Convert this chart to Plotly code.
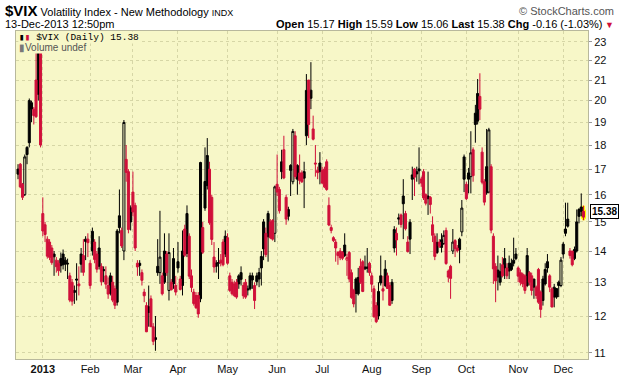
import numpy as np
import pandas as pd
import plotly.graph_objects as go

# ---------------- data ----------------
holidays = ["2012-12-25", "2013-01-01", "2013-01-21", "2013-02-18", "2013-03-29",
            "2013-05-27", "2013-07-04", "2013-09-02", "2013-11-28"]
bdays = pd.bdate_range("2012-12-14", "2013-12-13")
dates = [d for d in bdays if d.strftime("%Y-%m-%d") not in holidays]

open_ = [16.8, 17.2, 16.4, 16.0, 17.9, 20.0, 19.9, 19.6, 21.0, 20.3, 22.4,
         15.3, 14.9, 14.4, 14.3, 14.1, 13.9, 13.7, 13.6, 13.75, 13.9, 13.7, 13.6, 13.2, 13.0, 12.75, 13.1, 12.95, 13.9, 13.85, 14.4, 14.4,
         13.6, 14.0, 14.3, 13.9, 14.1, 13.5, 13.4, 13.2, 12.9, 13.2, 13.0, 12.8, 12.4, 14.8, 14.7, 14.0, 17.4, 16.9, 15.0,
         16.1, 15.6, 13.6, 13.6, 13.3, 12.7, 12.3, 12.1, 12.5, 11.7, 11.4, 13.5, 13.3, 13.2, 13.0, 13.9, 12.75, 13.0, 13.75, 12.9,
         13.65, 13.1, 12.9, 14.75, 15.3, 14.5, 13.2, 12.7, 12.6, 12.6, 12.5, 14.8, 15.5, 16.35, 17.0, 15.9, 13.8, 13.5, 13.6, 13.7, 14.3, 14.5,
         14.45, 13.2, 13.0, 12.95, 13.0, 13.2, 13.3, 12.9, 13.0, 12.8, 13.2, 13.2, 12.9, 13.2, 13.3, 13.45, 15.0, 14.6, 15.3, 15.0, 15.05, 14.6,
         16.4, 16.2, 17.3, 17.8, 15.9, 15.2, 17.15, 16.5, 18.4, 16.6, 16.85, 16.85, 16.9, 18.4, 21.0, 20.5, 18.7, 17.25, 16.95, 17.25,
         16.95, 17.0, 17.3, 15.6, 14.7, 14.45, 14.3, 13.95, 14.0, 13.95, 14.2, 13.7, 13.95, 13.3, 12.75, 13.1, 12.65, 13.5, 13.65, 13.48, 13.48, 13.6,
         13.2, 12.8, 12.3, 12.0, 13.2, 12.8, 12.9, 13.2, 12.9, 13.0, 14.1, 14.6, 15.15, 15.25, 15.95, 15.3, 14.3, 14.4, 16.6, 17.0, 16.9, 16.93,
         16.45, 16.9, 16.0, 15.95, 15.9, 14.9, 14.5, 13.95, 14.3, 14.12, 14.25, 14.7, 13.35, 13.5, 14.0, 14.35, 14.1, 14.4, 14.65, 17.5,
         16.4, 16.85, 16.7, 17.8, 18.9, 19.05, 20.2, 17.7, 16.5, 17.1, 16.1, 17.1, 14.5, 13.5, 13.38, 13.0, 13.55, 13.75, 13.45, 13.6, 13.6, 13.7, 13.9,
         13.45, 13.3, 13.25, 13.2, 12.9, 13.3, 13.2, 13.1, 12.85, 13.4, 12.7, 13.1, 12.95, 13.65, 13.2, 12.8, 12.85, 12.55, 13.0, 12.9,
         13.9, 14.75, 15.1, 14.0, 14.0, 14.05, 14.0, 15.45, 15.38, 15.17]
high = [17.2, 17.25, 16.45, 17.6, 17.95, 20.1, 20.0, 19.7, 22.5, 23.3, 22.9,
        15.9, 15.0, 14.5, 14.4, 14.2, 14.0, 13.8, 13.7, 13.95, 14.05, 13.8, 13.75, 13.3, 13.1, 12.9, 13.6, 13.5, 14.1, 14.4, 14.5, 14.6,
        13.7, 14.8, 14.4, 14.0, 14.5, 13.6, 13.5, 13.5, 13.15, 13.3, 13.2, 12.9, 14.75, 16.2, 14.8, 19.1, 18.0, 17.0, 15.6,
        16.9, 15.7, 13.7, 13.7, 13.4, 12.8, 12.4, 12.9, 12.6, 11.8, 12.0, 14.4, 15.4, 13.3, 14.6, 14.0, 14.6, 13.1, 14.1, 13.2,
        14.3, 13.2, 14.7, 14.9, 15.6, 14.6, 13.4, 12.8, 12.7, 12.7, 17.3, 15.0, 17.9, 18.3, 17.3, 16.0, 14.3, 13.7, 14.1, 13.9, 14.4, 14.7,
        14.6, 13.3, 13.1, 13.05, 13.1, 13.25, 13.5, 13.0, 13.1, 12.9, 13.3, 13.3, 13.0, 13.3, 13.45, 14.0, 15.1, 14.8, 15.4, 15.1, 15.1, 16.35,
        17.6, 16.3, 17.8, 18.4, 16.0, 15.55, 17.2, 18.7, 18.6, 17.2, 17.6, 16.95, 17.3, 21.3, 21.0, 21.91, 19.3, 18.0, 17.1, 17.7,
        17.1, 17.1, 17.4, 15.9, 14.9, 14.5, 14.4, 14.0, 14.1, 14.0, 14.6, 13.9, 14.0, 13.4, 12.8, 13.15, 13.45, 13.75, 13.7, 13.85, 14.1, 13.65,
        13.3, 12.9, 12.4, 13.0, 13.85, 13.2, 13.7, 13.3, 13.0, 13.1, 14.85, 14.8, 15.3, 15.3, 16.6, 15.4, 14.5, 15.1, 17.1, 17.05, 17.1, 17.9,
        16.7, 17.0, 16.05, 16.9, 15.95, 15.2, 14.6, 14.6, 14.4, 14.6, 14.7, 14.8, 13.4, 13.55, 14.75, 14.4, 14.2, 14.45, 15.8, 17.6,
        16.5, 17.05, 18.6, 17.9, 19.8, 21.05, 21.34, 17.9, 16.6, 18.7, 18.75, 17.2, 14.6, 13.6, 13.85, 13.6, 13.8, 14.1, 13.6, 13.85, 13.75, 14.45, 14.1,
        13.5, 13.4, 13.3, 13.25, 14.1, 13.35, 13.3, 13.1, 12.9, 13.45, 12.75, 13.2, 13.6, 13.9, 13.25, 12.85, 12.95, 12.8, 13.05, 13.8,
        14.3, 15.7, 15.7, 14.1, 14.0, 14.15, 15.45, 15.5, 16.05, 15.59]
low = [16.6, 16.25, 15.8, 15.95, 17.2, 17.9, 19.0, 18.9, 19.2, 20.0, 17.9,
       14.5, 14.3, 13.75, 13.7, 13.55, 13.2, 13.3, 13.2, 13.3, 13.4, 13.35, 13.1, 12.4, 12.3, 12.35, 12.45, 12.6, 13.3, 13.2, 13.7, 13.8,
       12.8, 13.85, 13.6, 13.3, 13.4, 12.9, 13.0, 12.8, 12.5, 12.6, 12.4, 12.2, 12.3, 14.6, 14.1, 13.7, 16.5, 14.6, 14.7,
       15.2, 14.0, 13.2, 13.2, 12.9, 12.4, 11.55, 11.7, 11.7, 11.2, 11.05, 13.2, 12.95, 12.6, 12.95, 13.2, 12.45, 12.75, 12.8, 12.6,
       13.3, 12.75, 12.6, 13.8, 13.8, 13.1, 12.7, 12.3, 12.2, 11.95, 12.4, 13.9, 15.4, 16.2, 14.9, 14.2, 13.3, 13.3, 13.1, 13.5, 13.5, 13.8,
       13.55, 12.7, 12.6, 12.55, 12.5, 12.8, 12.9, 12.5, 12.5, 12.6, 12.75, 12.8, 12.2, 12.9, 12.85, 12.9, 13.7, 13.8, 13.65, 14.4, 14.35, 14.3,
       15.95, 15.3, 16.6, 16.6, 14.9, 15.05, 15.95, 16.4, 16.6, 16.0, 16.4, 16.45, 15.5, 18.0, 18.3, 19.6, 18.2, 16.7, 16.6, 16.4,
       16.4, 16.25, 16.15, 14.85, 14.6, 14.3, 13.65, 13.55, 13.7, 13.7, 13.8, 13.2, 13.0, 12.5, 12.25, 12.1, 12.6, 12.95, 12.7, 13.38, 13.3, 13.2,
       12.7, 11.95, 11.8, 11.9, 12.9, 12.45, 12.85, 12.8, 12.3, 12.35, 13.95, 13.85, 14.9, 14.8, 14.4, 14.7, 13.95, 13.9, 15.8, 15.95, 16.5, 16.4,
       16.3, 15.8, 15.6, 15.25, 15.3, 14.3, 13.7, 13.9, 14.1, 13.95, 14.2, 13.55, 13.0, 12.5, 13.9, 13.8, 13.95, 13.6, 14.5, 16.1,
       15.8, 16.05, 16.05, 16.5, 18.1, 18.9, 19.1, 16.4, 15.6, 16.0, 16.05, 14.6, 12.95, 12.4, 12.75, 12.9, 13.15, 13.1, 13.1, 13.1, 13.35, 13.5, 13.7,
       13.0, 12.9, 12.85, 12.65, 12.85, 12.9, 12.6, 12.5, 12.5, 12.35, 11.95, 12.3, 12.9, 13.3, 12.7, 12.25, 12.25, 12.5, 12.55, 12.85,
       13.75, 14.5, 14.8, 13.75, 13.5, 13.7, 13.95, 14.95, 15.2, 15.06]
close = [17.0, 16.3, 15.9, 17.5, 17.6, 18.1, 19.6, 19.3, 19.25, 22.5, 18.0,
         14.68, 14.56, 13.83, 13.79, 13.62, 13.81, 13.49, 13.36, 13.52, 13.55, 13.57, 13.58, 12.46, 12.43, 12.69, 13.07, 12.89, 13.57, 13.31, 14.32, 14.28,
         12.90, 14.67, 13.72, 13.41, 13.50, 13.02, 13.36, 12.94, 12.64, 12.66, 12.46, 12.31, 14.68, 15.22, 14.17, 18.99, 16.87, 14.73, 15.51,
         15.36, 14.1, 13.48, 13.53, 13.06, 12.59, 11.56, 12.27, 11.7, 11.3, 11.35, 13.3, 13.8, 12.65, 14.0, 13.3, 13.95, 12.77, 12.95, 12.70,
         13.45, 12.78, 14.0, 13.86, 13.92, 13.19, 12.84, 12.36, 12.24, 12.06, 17.27, 13.96, 16.51, 17.56, 14.97, 14.39, 13.48, 13.61, 13.62, 13.61, 13.55, 13.9,
         13.6, 12.75, 12.65, 12.6, 12.55, 12.95, 13.09, 12.59, 12.55, 12.77, 12.8, 13.07, 12.45, 13.02, 13.1, 13.82, 14.07, 13.88, 14.48, 14.45, 14.4, 16.3,
         16.1, 15.4, 16.9, 16.65, 15.1, 15.45, 16.95, 18.59, 16.7, 17.15, 16.55, 16.5, 16.64, 20.49, 18.9, 20.11, 18.25, 17.21, 16.86, 16.9,
         16.45, 16.3, 16.2, 14.89, 14.8, 14.35, 14.1, 13.85, 13.78, 13.76, 13.85, 13.78, 13.1, 12.54, 12.35, 12.66, 13.15, 13.0, 12.72, 13.42, 13.44, 13.3,
         12.94, 11.98, 11.84, 12.72, 12.98, 12.73, 13.41, 12.81, 12.31, 12.45, 14.73, 14.37, 15.10, 14.91, 15.66, 14.76, 13.98, 14.99, 16.77, 16.68, 16.81, 17.01,
         16.61, 15.88, 15.68, 15.85, 15.63, 14.53, 13.82, 14.29, 14.16, 14.38, 14.53, 13.59, 13.16, 13.12, 14.30, 14.08, 14.01, 14.05, 15.5, 16.6,
         15.85, 16.6, 17.67, 16.74, 19.41, 20.34, 19.6, 16.48, 15.72, 16.07, 18.66, 14.71, 13.42, 13.04, 13.16, 13.33, 13.2, 13.45, 13.2, 13.35, 13.4, 13.6, 13.75,
         13.19, 13.0, 12.95, 12.75, 13.85, 13.0, 12.75, 12.85, 12.6, 12.4, 12.19, 12.45, 13.4, 13.45, 12.85, 12.26, 12.55, 12.81, 12.9, 13.7,
         14.23, 14.6, 14.85, 13.85, 13.55, 13.75, 15.0, 15.2, 15.54, 15.38]

y_ticks = list(range(11, 24))

# ---------------- figure ----------------
n = len(close)
idx = np.arange(n)
o, h, l, c = map(np.array, (open_, high, low, close))
prev = np.r_[c[0], c[:-1]]
up = c >= prev

BLACK = "#000000"
RED = "#D0103A"
BG = "#F7F7C8"
GRID = "#D6D6A6"

L, R, T, B = 16, 588, 31, 359
XR = [-0.9, 253.0]
W, H = R - L, B - T
px = lambda x: (x - L) / W
py = lambda y: (B - y) / H

# emulate the pixel snapping of narrow candles: hollow bodies only stay visible
# in the slots that get a 3-pixel-wide body
scale = W / (XR[1] - XR[0])
xpix = L + (idx - XR[0]) * scale
wide = (np.floor(xpix + scale) - np.floor(xpix)) >= 3

fig = go.Figure()

# highlight of the latest bar
fig.add_trace(go.Candlestick(
    x=idx[-1:], open=o[-1:], high=h[-1:], low=l[-1:], close=c[-1:],
    increasing=dict(line=dict(color="#FFFF00", width=3), fillcolor="#FFFF00"),
    decreasing=dict(line=dict(color="#FFFF00", width=3), fillcolor="#FFFF00"),
    whiskerwidth=0, hoverinfo="skip"))

for cmask, col in ((up, BLACK), (~up, RED)):
    for wmask in (wide, ~wide):
        m = cmask & wmask
        hollow = "rgba(0,0,0,0)" if wmask is wide else col
        fig.add_trace(go.Candlestick(
            x=idx[m], open=o[m], high=h[m], low=l[m], close=c[m],
            increasing=dict(line=dict(color=col, width=1), fillcolor=hollow),
            decreasing=dict(line=dict(color=col, width=1), fillcolor=col),
            whiskerwidth=0))

tickvals, ticktext = [], []
for i in range(1, n):
    if dates[i].month != dates[i - 1].month:
        tickvals.append(i)
        ticktext.append("<b>%d</b>" % dates[i].year if dates[i].month == 1 else dates[i].strftime("%b"))

fig.update_layout(
    width=620, height=376,
    margin=dict(l=L, r=620 - R, t=T, b=376 - B, autoexpand=False),
    paper_bgcolor="white", plot_bgcolor=BG,
    showlegend=False, boxgap=0.1, boxgroupgap=0,
    font=dict(family="Liberation Sans, Arial, sans-serif", size=11, color="#111"),
    xaxis=dict(range=XR, tickvals=tickvals, ticktext=ticktext, automargin=False,
               showgrid=True, gridcolor=GRID, griddash="3px,3px", gridwidth=1,
               ticks="", showline=True, linecolor="#B8B89C", linewidth=1, mirror=True,
               zeroline=False, rangeslider=dict(visible=False),
               tickfont=dict(size=11, color="#111")),
    yaxis=dict(type="log", range=[np.log10(10.837), np.log10(23.59)], side="right", automargin=False,
               tickvals=y_ticks, ticktext=[str(v) for v in y_ticks],
               showgrid=True, gridcolor=GRID, griddash="3px,3px", gridwidth=1,
               ticks="outside", ticklen=3, tickcolor="#999",
               showline=True, linecolor="#B8B89C", linewidth=1, mirror=True,
               zeroline=False, tickfont=dict(size=11, color="#111")),
)

chg = c[-1] - c[-2]
pct = chg / c[-2] * 100
ann = [
    dict(x=px(3), y=py(11), text="<span style='font-size:15px'><b>$VIX</b></span> Volatility Index - New Methodology <span style='font-size:9px'>INDX</span>",
         xanchor="left", yanchor="middle", font=dict(size=11, color="#000")),
    dict(x=px(616), y=py(11), text="© StockCharts.com", xanchor="right", yanchor="middle",
         font=dict(size=11, color="#555")),
    dict(x=px(3), y=py(24), text=dates[-1].strftime("%d-%b-%Y") + " 12:50pm", xanchor="left", yanchor="middle",
         font=dict(size=11, color="#000")),
    dict(x=px(605), y=py(24),
         text="<b>Open</b> %.2f <b>High</b> %.2f <b>Low</b> %.2f <b>Last</b> %.2f <b>Chg</b> %.2f (%.2f%%)" % (o[-1], h[-1], l[-1], c[-1], chg, pct),
         xanchor="right", yanchor="middle", font=dict(size=11, color="#000")),
    dict(x=px(616), y=py(25), text="▼", xanchor="right", yanchor="middle", font=dict(size=9, color=RED)),
    dict(x=px(18), y=py(37),
         text="<span style='color:#000'>▮</span><span style='color:%s'>▮</span> $VIX (Daily) %.2f" % (RED, c[-1]),
         xanchor="left", yanchor="middle", bgcolor=BG, borderpad=0,
         font=dict(family="Liberation Mono, DejaVu Sans Mono, monospace", size=9.5, color="#000")),
    dict(x=px(18), y=py(47), text="<span style='color:#777'>▮</span>Volume undef", xanchor="left", yanchor="middle",
         bgcolor=BG, borderpad=0, font=dict(size=10, color="#555")),
    dict(x=px(590), xref="paper", y=np.log10(c[-1]), yref="y", text="<b>%.2f</b>" % c[-1],
         xanchor="left", yanchor="middle", bgcolor="white", bordercolor="#000", borderwidth=1, borderpad=1,
         font=dict(size=10, color="#000")),
]
for a in ann:
    a.setdefault("xref", "paper")
    a.setdefault("yref", "paper")
    a["showarrow"] = False
    fig.add_annotation(**a)

fig.write_html("out.html", config={"displayModeBar": False},
               post_script="document.body.style.margin='0';")
